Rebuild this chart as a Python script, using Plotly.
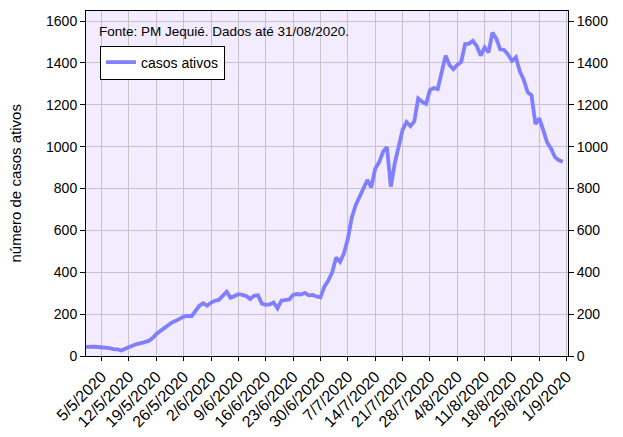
import plotly.graph_objects as go
import pandas as pd

start_date = "2020-05-01"
casos_ativos = [
    44, 46, 45, 43, 42, 41, 38, 33, 32, 26,
    35, 44, 50, 57, 60, 66, 72, 85, 105, 120,
    135, 148, 160, 168, 178, 188, 192, 190, 215, 240,
    252, 240, 255, 264, 268, 285, 307, 278, 288, 295,
    292, 287, 272, 288, 290, 250, 244, 246, 256, 228,
    264, 265, 270, 292, 296, 294, 302, 290, 292, 284,
    280, 331, 360, 400, 470, 450, 490, 560, 660, 720,
    760, 800, 841, 806, 895, 925, 975, 998, 809, 920,
    1010, 1080, 1118, 1098, 1120, 1230, 1215, 1204, 1270, 1280,
    1275, 1366, 1435, 1390, 1370, 1390, 1405, 1490, 1492, 1505,
    1480, 1435, 1474, 1450, 1545, 1515, 1465, 1462, 1440, 1410,
    1427, 1360, 1320, 1260, 1245, 1108, 1135, 1079, 1020, 990,
    950, 935, 928,
]
dates = pd.date_range(start_date, periods=len(casos_ativos), freq="D")

tick_dates = pd.date_range("2020-05-05", "2020-09-01", freq="7D")
tick_labels = [f"{d.day}/{d.month}/{d.year}" for d in tick_dates]

series_name = "casos ativos"
y_title = "número de casos ativos"
source_note = "Fonte: PM Jequié. Dados até 31/08/2020."

font_family = "Liberation Sans, Arial, sans-serif"
line_color = "#7F7FFF"
grid_color = "#C6C2CA"

fig = go.Figure()
fig.add_trace(go.Scatter(
    x=dates, y=casos_ativos, mode="lines", name=series_name,
    line=dict(color=line_color, width=3.8),
))
fig.add_trace(go.Scatter(
    x=dates, y=casos_ativos, mode="lines", yaxis="y2", showlegend=False,
    line=dict(color="rgba(0,0,0,0)", width=0), hoverinfo="skip",
))

yrange = [0, 1648]
fig.update_layout(
    width=623, height=437,
    margin=dict(l=86, r=55, t=11, b=81),
    paper_bgcolor="white",
    plot_bgcolor="#F3ECFE",
    font=dict(family=font_family, size=14, color="black"),
    xaxis=dict(
        range=[pd.Timestamp("2020-05-01"), pd.Timestamp("2020-09-01 08:00")],
        tickmode="array", tickvals=tick_dates, ticktext=tick_labels,
        tickangle=-45, ticks="outside", ticklen=4, tickcolor="black",
        showgrid=True, gridcolor=grid_color, gridwidth=1,
        showline=True, linecolor="black", linewidth=1, mirror=True,
        tickfont=dict(size=16), automargin=False,
    ),
    yaxis=dict(
        range=yrange, dtick=200, tick0=0,
        ticks="outside", ticklen=5, tickcolor="black",
        showgrid=True, gridcolor=grid_color, gridwidth=1,
        showline=True, linecolor="black", linewidth=1,
        zeroline=False, tickfont=dict(size=14), automargin=False,
    ),
    yaxis2=dict(
        range=yrange, dtick=200, tick0=0, overlaying="y", side="right",
        ticks="outside", ticklen=5, tickcolor="black",
        showgrid=False, showline=True, linecolor="black", linewidth=1,
        zeroline=False, tickfont=dict(size=14), automargin=False,
    ),
    legend=dict(
        x=0.029, y=0.9, xanchor="left", yanchor="top",
        bgcolor="white", bordercolor="black", borderwidth=1,
        font=dict(size=14),
    ),
    showlegend=True,
)
fig.add_annotation(
    text=source_note, xref="paper", yref="paper",
    x=(97 - 86) / 482, y=(356 - 32) / 345, xanchor="left", yanchor="middle",
    showarrow=False, font=dict(size=13.5),
)
fig.add_annotation(
    text=y_title, xref="paper", yref="paper",
    x=(15 - 86) / 482, y=0.5, xanchor="center", yanchor="middle",
    textangle=-90, showarrow=False, font=dict(size=15),
)
fig.write_html("out.html", config={"displayModeBar": False},
               post_script="document.body.style.margin='0';")
